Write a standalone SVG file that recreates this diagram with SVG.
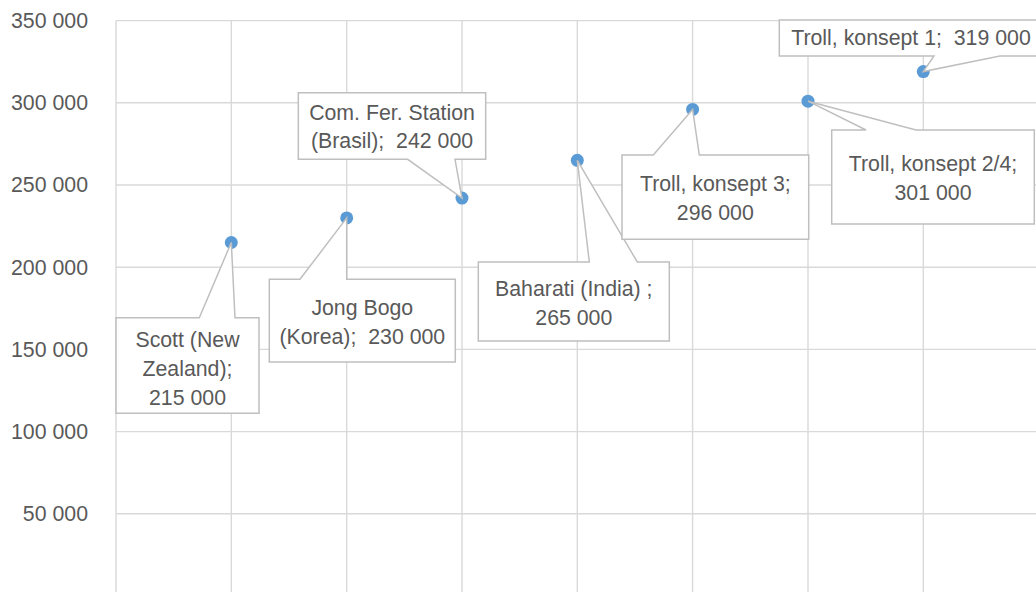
<svg xmlns="http://www.w3.org/2000/svg" width="1036" height="592" viewBox="0 0 1036 592">
<style>
.grid{stroke:#D9D9D9;stroke-width:1.4;fill:none}
.ax{font-family:"Liberation Sans",Arial,sans-serif;font-size:21.3px;fill:#595959;text-anchor:end}
.lbl{font-family:"Liberation Sans",Arial,sans-serif;font-size:21.3px;fill:#595959;text-anchor:middle}
.co{fill:#FFFFFF;stroke:#BFBFBF;stroke-width:1.5;stroke-linejoin:miter}
.pt{fill:#5B9BD5}
</style>
<rect width="1036" height="592" fill="#FFFFFF"/>
<g id="gridlines">
<path class="grid" d="M116,20.6H1036M116,102.8H1036M116,185H1036M116,267.2H1036M116,349.4H1036M116,431.6H1036M116,513.8H1036"/>
<path class="grid" d="M116,20.6V592M231.3,20.6V592M346.7,20.6V592M462,20.6V592M577.3,20.6V592M692.6,20.6V592M808,20.6V592M923.3,20.6V592"/>
</g>
<g id="y-axis">
<text class="ax" x="88" y="28">350 000</text>
<text class="ax" x="88" y="110.2">300 000</text>
<text class="ax" x="88" y="192.4">250 000</text>
<text class="ax" x="88" y="274.6">200 000</text>
<text class="ax" x="88" y="356.8">150 000</text>
<text class="ax" x="88" y="439">100 000</text>
<text class="ax" x="88" y="521.2">50 000</text>
</g>
<g id="points">
<circle class="pt" cx="231.3" cy="242.5" r="6.5"/>
<circle class="pt" cx="346.7" cy="217.9" r="6.5"/>
<circle class="pt" cx="462" cy="198.1" r="6.5"/>
<circle class="pt" cx="577.3" cy="160.3" r="6.5"/>
<circle class="pt" cx="692.6" cy="109.4" r="6.5"/>
<circle class="pt" cx="808" cy="101.2" r="6.5"/>
<circle class="pt" cx="923.3" cy="71.6" r="6.5"/>
</g>
<g id="label-scott">
<path class="co" d="M116,317.7H199.3L231.3,242.5L235,317.7H259V413.3H116Z"/>
<text class="lbl" x="187.5" y="346.5">Scott (New</text>
<text class="lbl" x="187.5" y="375.5">Zealand);</text>
<text class="lbl" x="187.5" y="404.5">215 000</text>
</g>
<g id="label-jongbogo">
<path class="co" d="M269.3,279.3H300L346.7,217.9L346.7,279.3H455.3V362H269.3Z"/>
<text class="lbl" x="362.3" y="315">Jong Bogo</text>
<text class="lbl" x="362.3" y="344" xml:space="preserve">(Korea);  230 000</text>
</g>
<g id="label-comfer">
<path class="co" d="M298.3,92.7H485.7V159.3H455L462,198.1L407.7,159.3H298.3Z"/>
<text class="lbl" x="392" y="120">Com. Fer. Station</text>
<text class="lbl" x="392" y="148.3" xml:space="preserve">(Brasil);  242 000</text>
</g>
<g id="label-baharati">
<path class="co" d="M478.3,262H589.3L577.3,160.3L637.3,262H669.3V341H478.3Z"/>
<text class="lbl" x="573.8" y="295.7">Baharati (India) ;</text>
<text class="lbl" x="573.8" y="325">265 000</text>
</g>
<g id="label-troll3">
<path class="co" d="M622,155H653.3L692.6,109.4L699.3,155H808.7V239.3H622Z"/>
<text class="lbl" x="715.3" y="191">Troll, konsept 3;</text>
<text class="lbl" x="715.3" y="220">296 000</text>
</g>
<g id="label-troll24">
<path class="co" d="M831.7,130H866L808,101.2L916,130H1034.3V224H831.7Z"/>
<text class="lbl" x="933" y="170.7">Troll, konsept 2/4;</text>
<text class="lbl" x="933" y="200">301 000</text>
</g>
<g id="label-troll1">
<path class="co" d="M779.3,20H1042V56H1000L923.3,71.6L934,56H779.3Z"/>
<text class="lbl" x="911" y="45" xml:space="preserve">Troll, konsept 1;  319 000</text>
</g>
</svg>
